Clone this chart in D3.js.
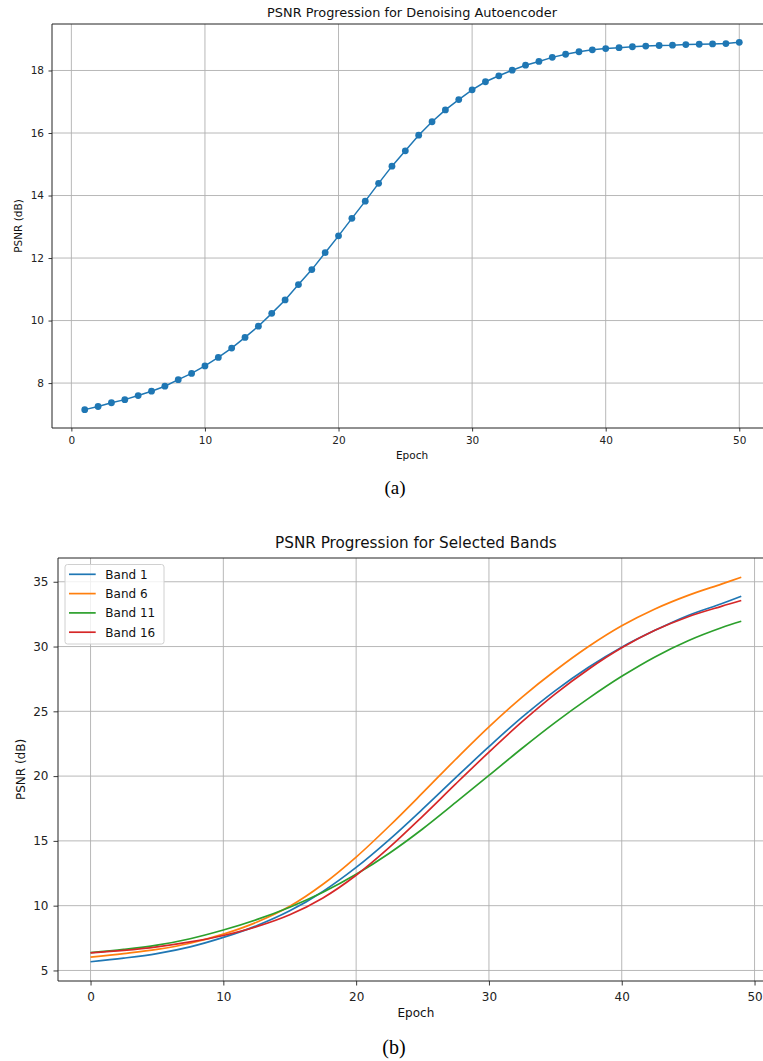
<!DOCTYPE html>
<html>
<head>
<meta charset="utf-8">
<script src="https://cdn.jsdelivr.net/npm/d3@7"></script>
<style>
  html, body { margin: 0; padding: 0; background: #fff; }
  svg { display: block; font-family: "DejaVu Sans", sans-serif; }
</style>
</head>
<body>
<svg id="chart" width="763" height="1061"></svg>
<script>
// ---------- Data: chart (a) ----------
const topEpochs = [1,2,3,4,5,6,7,8,9,10,11,12,13,14,15,16,17,18,19,20,21,22,23,24,25,26,27,28,29,30,31,32,33,34,35,36,37,38,39,40,41,42,43,44,45,46,47,48,49,50];
const topPsnr = [7.15, 7.25, 7.37, 7.47, 7.60, 7.74, 7.90, 8.11, 8.31, 8.55,
                 8.82, 9.12, 9.46, 9.82, 10.23, 10.66, 11.15, 11.63, 12.17, 12.71,
                 13.27, 13.82, 14.39, 14.94, 15.43, 15.93, 16.36, 16.74, 17.07, 17.38,
                 17.64, 17.83, 18.01, 18.17, 18.29, 18.42, 18.52, 18.60, 18.66, 18.70,
                 18.73, 18.76, 18.78, 18.80, 18.81, 18.83, 18.84, 18.85, 18.86, 18.90];
const topXTicks = [0, 10, 20, 30, 40, 50];
const topYTicks = [8, 10, 12, 14, 16, 18];

// ---------- Data: chart (b) ----------
const bandEpochs = [0, 2.5, 5, 7.5, 10, 12.5, 15, 17.5, 20, 22.5, 25, 27.5, 30, 32.5, 35, 37.5, 40, 42.5, 45, 47.5, 49];
const bandNames = ["Band 1", "Band 6", "Band 11", "Band 16"];
const band1 = [5.67, 5.95, 6.30, 6.82, 7.55, 8.45, 9.60, 11.10, 12.95, 15.10, 17.45, 19.88, 22.27, 24.55, 26.60, 28.40, 29.95, 31.25, 32.40, 33.30, 33.88];
const band6 = [6.03, 6.30, 6.62, 7.10, 7.80, 8.72, 9.95, 11.65, 13.75, 16.15, 18.70, 21.30, 23.80, 26.10, 28.15, 30.00, 31.60, 32.90, 33.95, 34.82, 35.35];
const band11 = [6.37, 6.62, 6.95, 7.45, 8.12, 8.92, 9.88, 11.03, 12.42, 14.05, 15.92, 17.97, 20.05, 22.15, 24.15, 26.00, 27.70, 29.20, 30.45, 31.45, 31.95];
const band16 = [6.36, 6.55, 6.82, 7.20, 7.70, 8.38, 9.30, 10.60, 12.35, 14.50, 16.90, 19.40, 21.85, 24.20, 26.35, 28.25, 29.90, 31.25, 32.30, 33.10, 33.55];
const bandColors = ["#1f77b4", "#ff7f0e", "#2ca02c", "#d62728"];
const botXTicks = [0, 10, 20, 30, 40, 50];
const botYTicks = [5, 10, 15, 20, 25, 30, 35];

const svg = d3.select("#chart");
svg.append("rect").attr("width", 763).attr("height", 1061).attr("fill", "#fff");

function padded(ext) {
  const p = (ext[1] - ext[0]) * 0.05;
  return [ext[0] - p, ext[1] + p];
}

function drawFrame(g, x, y, opts) {
  const [x0, x1] = x.range();
  const [y0, y1] = y.range(); // y0 bottom, y1 top
  // grid
  g.append("g").selectAll("line").data(opts.xTicks).join("line")
    .attr("x1", d => x(d)).attr("x2", d => x(d))
    .attr("y1", y1).attr("y2", y0)
    .attr("stroke", "#b0b0b0").attr("stroke-width", 0.9);
  g.append("g").selectAll("line").data(opts.yTicks).join("line")
    .attr("x1", x0).attr("x2", x1)
    .attr("y1", d => y(d)).attr("y2", d => y(d))
    .attr("stroke", "#b0b0b0").attr("stroke-width", 0.9);
  // axes
  const xa = g.append("g").attr("transform", `translate(0,${y0})`)
    .call(d3.axisBottom(x).tickValues(opts.xTicks).tickSize(opts.tick).tickPadding(opts.xPad).tickFormat(d3.format("d")));
  const ya = g.append("g").attr("transform", `translate(${x0},0)`)
    .call(d3.axisLeft(y).tickValues(opts.yTicks).tickSize(opts.tick).tickPadding(opts.yPad).tickFormat(d3.format("d")));
  [xa, ya].forEach(a => {
    a.select(".domain").remove();
    a.selectAll("line").attr("stroke", "#222").attr("stroke-width", 0.9);
    a.selectAll("text").attr("fill", "#222").style("font-size", opts.tickFont + "px")
      .style("font-family", "DejaVu Sans, sans-serif");
  });
  // spines
  g.append("line").attr("x1", x0).attr("x2", x0).attr("y1", y1).attr("y2", y0)
    .attr("stroke", "#222").attr("stroke-width", 1);
  g.append("line").attr("x1", x0).attr("x2", x1).attr("y1", y0).attr("y2", y0)
    .attr("stroke", "#222").attr("stroke-width", 1);
  g.append("line").attr("x1", x0).attr("x2", x1).attr("y1", y1).attr("y2", y1)
    .attr("stroke", "#222").attr("stroke-width", 1);
  g.append("line").attr("x1", x1).attr("x2", x1).attr("y1", y1).attr("y2", y0)
    .attr("stroke", "#222").attr("stroke-width", 1);
  // title and labels
  const cx = (x0 + x1) / 2;
  g.append("text").attr("x", cx).attr("y", opts.titleY).attr("text-anchor", "middle")
    .style("font-size", opts.titleFont + "px").attr("fill", "#111").text(opts.title);
  g.append("text").attr("x", cx).attr("y", opts.xLabelY).attr("text-anchor", "middle")
    .style("font-size", opts.labelFont + "px").attr("fill", "#111").text(opts.xLabel);
  g.append("text").attr("transform", `translate(${opts.yLabelX},${(y0 + y1) / 2}) rotate(-90)`)
    .attr("text-anchor", "middle")
    .style("font-size", opts.labelFont + "px").attr("fill", "#111").text(opts.yLabel);
}

// ---------- Chart (a) ----------
{
  const x = d3.scaleLinear().domain(padded(d3.extent(topEpochs))).range([52, 772]);
  const y = d3.scaleLinear().domain(padded(d3.extent(topPsnr))).range([428, 24]);
  const g = svg.append("g");
  drawFrame(g, x, y, {
    xTicks: topXTicks, yTicks: topYTicks, tick: 3.5, xPad: 5, yPad: 4.5, tickFont: 10.5,
    title: "PSNR Progression for Denoising Autoencoder", titleY: 17.3, titleFont: 12.9,
    xLabel: "Epoch", xLabelY: 458.5, yLabel: "PSNR (dB)", yLabelX: 22, labelFont: 10.5
  });
  const pts = topEpochs.map((e, i) => [e, topPsnr[i]]);
  g.append("path").datum(pts)
    .attr("d", d3.line().x(d => x(d[0])).y(d => y(d[1])))
    .attr("fill", "none").attr("stroke", "#1f77b4").attr("stroke-width", 1.5);
  g.append("g").selectAll("circle").data(pts).join("circle")
    .attr("cx", d => x(d[0])).attr("cy", d => y(d[1])).attr("r", 3.4)
    .attr("fill", "#1f77b4");
  svg.append("text").attr("x", 395).attr("y", 494).attr("text-anchor", "middle")
    .style("font-family", "Liberation Serif, Times New Roman, serif").style("font-size", "19px")
    .attr("fill", "#000").text("(a)");
}

// ---------- Chart (b) ----------
{
  const series = [band1, band6, band11, band16];
  const allVals = series.flat();
  const x = d3.scaleLinear().domain(padded(d3.extent(bandEpochs))).range([58, 773.8]);
  const y = d3.scaleLinear().domain(padded(d3.extent(allVals))).range([981, 558]);
  const g = svg.append("g");
  drawFrame(g, x, y, {
    xTicks: botXTicks, yTicks: botYTicks, tick: 4.5, xPad: 7, yPad: 5, tickFont: 12,
    title: "PSNR Progression for Selected Bands", titleY: 548, titleFont: 15.2,
    xLabel: "Epoch", xLabelY: 1017, yLabel: "PSNR (dB)", yLabelX: 24.5, labelFont: 12
  });
  const line = d3.line().x(d => x(d[0])).y(d => y(d[1])).curve(d3.curveCatmullRom.alpha(0.5));
  series.forEach((vals, k) => {
    g.append("path").datum(bandEpochs.map((e, i) => [e, vals[i]]))
      .attr("d", line).attr("fill", "none")
      .attr("stroke", bandColors[k]).attr("stroke-width", 1.7);
  });
  // legend
  const lg = g.append("g").attr("transform", "translate(65,564.5)");
  lg.append("rect").attr("width", 99).attr("height", 79.5).attr("rx", 2.5)
    .attr("fill", "#fff").attr("fill-opacity", 0.8)
    .attr("stroke", "#d0d0d0").attr("stroke-width", 1);
  bandNames.forEach((name, k) => {
    const cy = 9.8 + k * 19.3;
    lg.append("line").attr("x1", 4).attr("x2", 30.7).attr("y1", cy).attr("y2", cy)
      .attr("stroke", bandColors[k]).attr("stroke-width", 1.7);
    lg.append("text").attr("x", 40.3).attr("y", cy).attr("dy", "0.36em")
      .style("font-size", "12px").attr("fill", "#111").text(name);
  });
  svg.append("text").attr("x", 394).attr("y", 1054).attr("text-anchor", "middle")
    .style("font-family", "Liberation Serif, Times New Roman, serif").style("font-size", "20px")
    .attr("fill", "#000").text("(b)");
}
</script>
</body>
</html>
